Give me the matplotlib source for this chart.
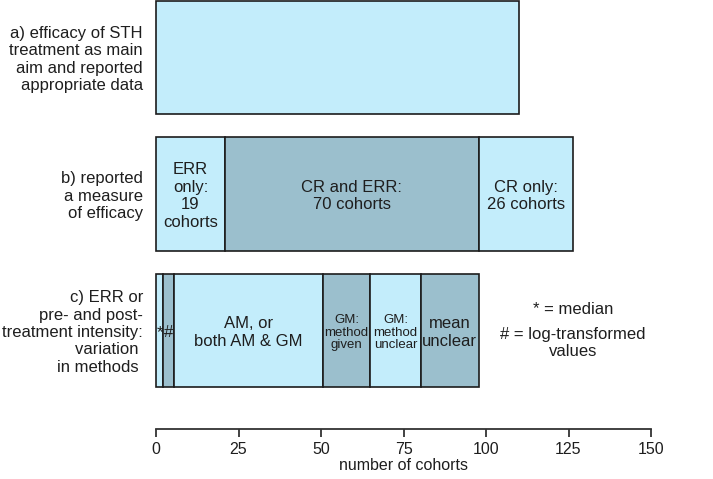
import numpy as np
import matplotlib
matplotlib.use("Agg")
import matplotlib.pyplot as plt

# ---------------- data ----------------
row_labels = [
    "a) efficacy of STH\ntreatment as main\naim and reported\nappropriate data",
    "b) reported\na measure\nof efficacy",
    "c) ERR or\npre- and post-\ntreatment intensity:\nvariation \nin methods ",
]
a_values = [100]
a_texts = [""]
b_values = [19, 70, 26]
b_texts = ["ERR\nonly:\n19\ncohorts", "CR and ERR:\n70 cohorts", "CR only:\n26 cohorts"]
c_values = [2, 3, 41, 13, 14, 16]
c_texts = ["*", "#", "AM, or\nboth AM & GM", "GM:\nmethod\ngiven", "GM:\nmethod\nunclear", "mean\nunclear"]
axis_ticks = [0, 25, 50, 75, 100, 125, 150]
x_label = "number of cohorts"
note_1 = "* = median"
note_2 = "# = log-transformed\nvalues"

# ---------------- style ----------------
LIGHT = "#c3edfb"
DARK = "#9bbfcd"
EDGE = "#1c1c1c"
TXT = "#1e1e1e"
plt.rcParams["font.family"] = ["Liberation Sans", "DejaVu Sans"]

W, H, DPI = 713, 479, 100
fig = plt.figure(figsize=(W / DPI, H / DPI), dpi=DPI)

px_per_unit = (518.7 - 156) / 100.0
ax_left_px, ax_right_px = 156, 651
ax_top_px, ax_bot_px = 0, 429
ax = fig.add_axes([ax_left_px / W, (H - ax_bot_px) / H,
                   (ax_right_px - ax_left_px) / W, (ax_bot_px - ax_top_px) / H])
xmax = (ax_right_px - ax_left_px) / px_per_unit
ax.set_xlim(0, xmax)

row_step_px = 136.5
row0_center_px = 57.5
ax.set_ylim((ax_bot_px - row0_center_px) / row_step_px, (ax_top_px - row0_center_px) / row_step_px)
bar_h = 113.5 / row_step_px

rows = [(a_values, a_texts), (b_values, b_texts), (c_values, c_texts)]
small_labels = {"GM:\nmethod\ngiven", "GM:\nmethod\nunclear"}
for i, (vals, texts) in enumerate(rows):
    vals = np.asarray(vals, dtype=float)
    lefts = np.concatenate([[0], np.cumsum(vals)[:-1]])
    colors = [LIGHT if j % 2 == 0 else DARK for j in range(len(vals))]
    ax.barh([i] * len(vals), vals, left=lefts, height=bar_h, color=colors,
            edgecolor=EDGE, linewidth=1.2, clip_on=False)
    for l, v, t in zip(lefts, vals, texts):
        if not t:
            continue
        fs = 9.5 if t in small_labels else 12
        ls = 1.1 if t in small_labels else 1.2
        ax.text(l + v / 2, i + 0.015, t, ha="center", va="center", fontsize=fs,
                color=TXT, linespacing=ls, clip_on=False)
    ax.text(-(156 - 143) / px_per_unit, i + 0.015, row_labels[i], ha="right", va="center",
            fontsize=12, color=TXT, linespacing=1.2, clip_on=False)

# notes
note_x = (573 - 156) / px_per_unit
ax.text(note_x, (310 - row0_center_px) / row_step_px, note_1, ha="center", va="center",
        fontsize=12, color=TXT)
ax.text(note_x, (343 - row0_center_px) / row_step_px, note_2, ha="center", va="center",
        fontsize=12, color=TXT, linespacing=1.1)

for s in ax.spines.values():
    s.set_visible(False)
ax.set_xticks([])
ax.set_yticks([])

# separate scale axis (as in the original figure)
k = axis_ticks[-1] / xmax
sec = ax.secondary_xaxis("bottom", functions=(lambda d: d * k, lambda u: u / k))
sec.set_xticks(axis_ticks)
sec.set_xticklabels([str(t) for t in axis_ticks])
sec.spines["bottom"].set_color("#333333")
sec.spines["bottom"].set_linewidth(1.3)
sec.tick_params(axis="x", direction="out", length=6, width=1.3, color="#333333",
                labelsize=11.5, labelcolor=TXT, pad=3)
sec.set_xlabel(x_label, fontsize=11.5, color=TXT, labelpad=1)

fig.savefig("out.png", dpi=DPI)
